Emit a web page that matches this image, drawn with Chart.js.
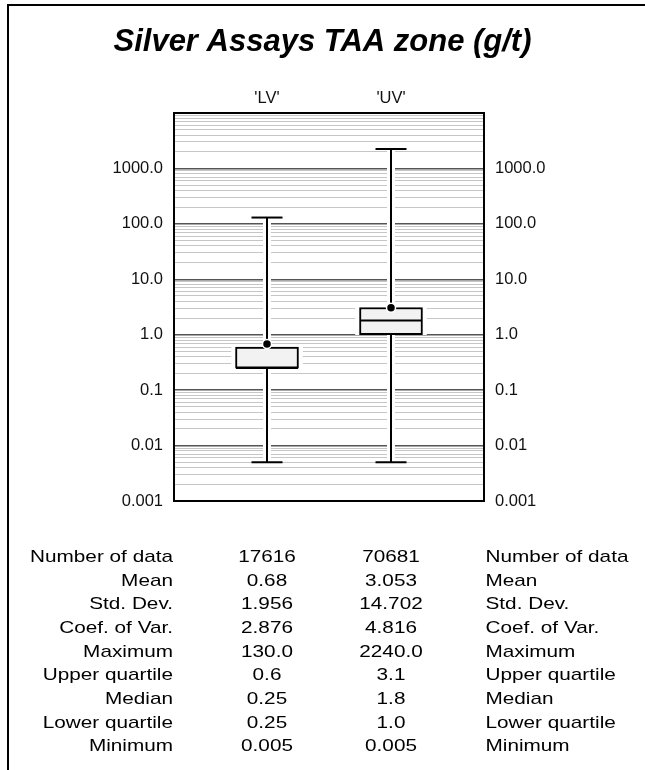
<!DOCTYPE html>
<html>
<head>
<meta charset="utf-8">
<script src="https://cdn.jsdelivr.net/npm/chart.js@4.4.1/dist/chart.umd.min.js"></script>
<style>
  html, body { margin: 0; padding: 0; background: #fff; }
  canvas { display: block; }
</style>
</head>
<body>
<canvas id="boxChart" width="645" height="770"></canvas>
<script>
// box plot values (g/t)
const categories = ['LV', 'UV'];
const catPositions = [3, 7];
const minimum = [0.005, 0.005];
const lowerQuartile = [0.25, 1.0];
const median = [0.25, 1.8];
const upperQuartile = [0.6, 3.1];
const maximum = [130.0, 2240.0];
const mean = [0.68, 3.053];

// summary table under the plot
const statNames = ['Number of data', 'Mean', 'Std. Dev.', 'Coef. of Var.', 'Maximum',
  'Upper quartile', 'Median', 'Lower quartile', 'Minimum'];
const lvStats = ['17616', '0.68', '1.956', '2.876', '130.0', '0.6', '0.25', '0.25', '0.005'];
const uvStats = ['70681', '3.053', '14.702', '4.816', '2240.0', '3.1', '1.8', '1.0', '0.005'];

// log axis
const decades = [0.001, 0.01, 0.1, 1, 10, 100, 1000];
const decadeLabels = ['0.001', '0.01', '0.1', '1.0', '10.0', '100.0', '1000.0'];
const yMin = 0.001, yMax = 10000;

const FONT = '"Liberation Sans", Arial, Helvetica, sans-serif';
const capHalf = 0.5;
const boxHalf = 1.0;

const tickValues = [];
decades.forEach(d => {
  for (let k = 1; k <= 9; k++) tickValues.push(parseFloat((d * k).toPrecision(6)));
});
tickValues.push(yMax);

function isDecade(v) {
  const l = Math.log10(v);
  return Math.abs(l - Math.round(l)) < 1e-9;
}
function decadeLabel(v) {
  const i = decades.findIndex(d => Math.abs(d - v) < d * 1e-6);
  return i >= 0 ? decadeLabels[i] : '';
}

const datasets = [];
categories.forEach((c, i) => {
  const x = catPositions[i];
  const whisker = [{x: x, y: minimum[i]}, {x: x, y: maximum[i]}];
  datasets.push({type: 'line', data: whisker, borderColor: '#fff', borderWidth: 8,
    pointRadius: 0, order: 6});
  datasets.push({type: 'line', data: whisker, borderColor: '#000', borderWidth: 2,
    pointRadius: 0, order: 4});
  datasets.push({type: 'line', data: [{x: x - capHalf, y: maximum[i]}, {x: x + capHalf, y: maximum[i]}],
    borderColor: '#000', borderWidth: 2, pointRadius: 0, order: 4});
  datasets.push({type: 'line', data: [{x: x - capHalf, y: minimum[i]}, {x: x + capHalf, y: minimum[i]}],
    borderColor: '#000', borderWidth: 2, pointRadius: 0, order: 4});
  datasets.push({type: 'line', data: [{x: x - boxHalf, y: median[i]}, {x: x + boxHalf, y: median[i]}],
    borderColor: '#000', borderWidth: 2, pointRadius: 0, order: 1});
});

const boxData = categories.map((c, i) => ({x: catPositions[i], y: [lowerQuartile[i], upperQuartile[i]]}));
datasets.push({type: 'bar', data: boxData, backgroundColor: '#fff', borderWidth: 0,
  barThickness: 71, grouped: false, order: 3});
datasets.push({type: 'bar', data: boxData, backgroundColor: '#f2f2f2', borderColor: '#000',
  borderWidth: 2, borderSkipped: false, barThickness: 63, grouped: false, order: 2});
datasets.push({type: 'scatter', data: categories.map((c, i) => ({x: catPositions[i], y: mean[i]})),
  pointRadius: 4.5, backgroundColor: '#000', borderColor: '#fff', borderWidth: 1.5, order: 0});

function yAxis(position, pad) {
  return {
    type: 'logarithmic',
    position: position,
    min: yMin,
    max: yMax,
    afterBuildTicks: scale => { scale.ticks = tickValues.map(v => ({value: v})); },
    afterFit: scale => { scale.width = pad; },
    grid: {
      display: position === 'left',
      drawTicks: false,
      color: ctx => (ctx.tick && isDecade(ctx.tick.value)) ? '#555' : '#c6c6c6',
      lineWidth: ctx => (ctx.tick && isDecade(ctx.tick.value)) ? 1.5 : 1
    },
    border: {display: false},
    ticks: {
      autoSkip: false,
      padding: 11,
      color: '#111',
      font: {family: FONT, size: 16.5},
      callback: v => decadeLabel(v)
    }
  };
}

const pagePlugin = {
  id: 'page',
  beforeDraw(chart) {
    const ctx = chart.ctx;
    ctx.save();
    ctx.fillStyle = '#fff';
    ctx.fillRect(0, 0, chart.width, chart.height);
    ctx.restore();
  },
  afterDraw(chart) {
    const ctx = chart.ctx;
    const a = chart.chartArea;
    ctx.save();
    // outer frame (top and left)
    ctx.strokeStyle = '#000';
    ctx.lineWidth = 2;
    ctx.beginPath();
    ctx.moveTo(8, chart.height);
    ctx.lineTo(8, 5);
    ctx.lineTo(chart.width, 5);
    ctx.stroke();
    // plot border
    ctx.strokeRect(a.left, a.top, a.right - a.left, a.bottom - a.top);

    // stats table
    const xs = catPositions.map(v => chart.scales.x.getPixelForValue(v));
    ctx.fillStyle = '#000';
    ctx.font = '17px ' + FONT;
    ctx.textBaseline = 'alphabetic';
    const put = (t, x, y, align) => {
      ctx.save();
      ctx.translate(x, y);
      ctx.scale(1.22, 1);
      ctx.textAlign = align;
      ctx.fillText(t, 0, 0);
      ctx.restore();
    };
    statNames.forEach((name, r) => {
      const y = 562 + r * 23.65;
      put(name, a.left - 1, y, 'right');
      put(lvStats[r], xs[0], y, 'center');
      put(uvStats[r], xs[1], y, 'center');
      put(name, a.right + 1.5, y, 'left');
    });
    ctx.restore();
  }
};

new Chart(document.getElementById('boxChart').getContext('2d'), {
  type: 'bar',
  data: {datasets: datasets},
  options: {
    responsive: false,
    animation: false,
    layout: {padding: {top: 0, left: 0, right: 0, bottom: 269}},
    plugins: {
      legend: {display: false},
      tooltip: {enabled: false},
      title: {
        display: true,
        text: 'Silver Assays TAA zone (g/t)',
        color: '#000',
        font: {family: FONT, size: 31, weight: 'bold', style: 'italic', lineHeight: 1.0},
        padding: {top: 27, bottom: 0}
      }
    },
    scales: {
      x: {
        type: 'linear',
        position: 'top',
        min: 0,
        max: 10,
        offset: false,
        bounds: 'ticks',
        afterBuildTicks: scale => { scale.ticks = catPositions.map(v => ({value: v})); },
        afterFit: scale => { scale.height = 55; },
        grid: {display: false, drawTicks: false},
        border: {display: false},
        ticks: {
          padding: 5,
          color: '#111',
          font: {family: FONT, size: 16.5},
          callback: v => {
            const i = catPositions.indexOf(v);
            return i >= 0 ? "'" + categories[i] + "'" : '';
          }
        }
      },
      y: yAxis('left', 174),
      y1: yAxis('right', 161)
    }
  },
  plugins: [pagePlugin]
});
</script>
</body>
</html>
